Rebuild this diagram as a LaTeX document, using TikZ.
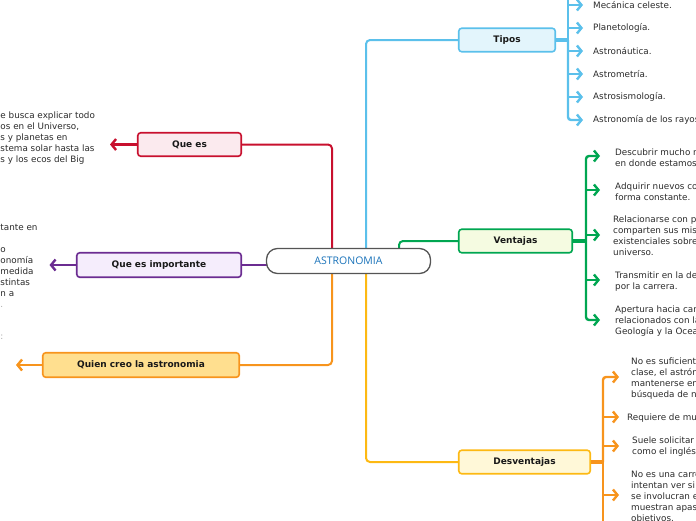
\documentclass[tikz,border=0pt]{standalone}
\usepackage{fontspec}
\setmainfont{DejaVu Sans}
\newfontfamily\centerfont{Open Sans}
\usetikzlibrary{arrows.meta,calc,backgrounds}
\definecolor{cred}{HTML}{C8102E}
\definecolor{credf}{HTML}{FBEAEE}
\definecolor{cpur}{HTML}{6B2C91}
\definecolor{cpurf}{HTML}{F5EDFC}
\definecolor{cora}{HTML}{F7941D}
\definecolor{coraf}{HTML}{FFDF8F}
\definecolor{cblu}{HTML}{5BC0EB}
\definecolor{cbluf}{HTML}{E3F5FC}
\definecolor{cgre}{HTML}{00A651}
\definecolor{cgref}{HTML}{F5FBE1}
\definecolor{cyel}{HTML}{FDB913}
\definecolor{cyelf}{HTML}{FFF8D8}
\definecolor{ctxt}{HTML}{2B2B2B}
\definecolor{ccen}{HTML}{1A73BA}
\definecolor{cbor}{HTML}{555555}
\tikzset{
  mbox/.style={draw, line width=1.6pt, rounded corners=3pt, inner sep=0pt,
    font=\bfseries\fontsize{9}{10}\selectfont, text=black!90},
  conn/.style={line width=2pt, rounded corners=4pt},
  stub/.style={line width=4pt},
  arr/.style={line width=2.4pt, rounded corners=3pt, -{Straight Barb[length=4.5pt,width=11pt]}},
  leaf/.style={anchor=west, align=left, inner sep=0pt, font=\fontsize{8.8}{11}\selectfont, text=ctxt},
  sliver/.style={anchor=west, inner sep=0pt, font=\fontsize{8.8}{11}\selectfont, text=black!35}
}
\begin{document}
\begin{tikzpicture}[x=1pt,y=-1pt]
\useasboundingbox (0,0) rectangle (696,520);
\clip (0,0) rectangle (696,520);

% central node
\node[draw=cbor, line width=1.3pt, rounded corners=11pt, minimum width=164pt, minimum height=25pt,
  fill=white, text=ccen, inner sep=0pt, font=\centerfont\fontsize{10.5}{12}\selectfont] (center) at (348.5,261) {ASTRONOMIA};

% main topic boxes
\node[mbox, draw=cred, fill=credf, minimum width=103.5pt, minimum height=23.5pt] (quees) at (189.5,144.5) {Que es};
\node[mbox, draw=cpur, fill=cpurf, minimum width=164.5pt, minimum height=24.5pt] (imp) at (159,265) {Que es importante};
\node[mbox, draw=cora, fill=coraf, minimum width=196.5pt, minimum height=24.5pt] (quien) at (141,365) {Quien creo la astronomia};
\node[mbox, draw=cblu, fill=cbluf, minimum width=96.5pt, minimum height=23.5pt] (tipos) at (507,40) {Tipos};
\node[mbox, draw=cgre, fill=cgref, minimum width=113.5pt, minimum height=23.5pt] (vent) at (515.5,241) {Ventajas};
\node[mbox, draw=cyel, fill=cyelf, minimum width=131.5pt, minimum height=23.5pt] (desv) at (524.5,462) {Desventajas};

% anchor points on the central node
\coordinate (r1) at (332,252);
\coordinate (o1) at (332,270);
\coordinate (b1) at (366,252);
\coordinate (g1) at (399,252);
\coordinate (y1) at (366,270);
% free ends of the left arrows
\coordinate (qa) at (110,144.5);
\coordinate (ia) at (49.5,265);
\coordinate (qca) at (16,365);
% spine junctions
\coordinate (tsp) at (568,40);
\coordinate (vsp) at (586,241);
\coordinate (dsp) at (603,462);

% left texts (clipped at the left edge)
\node[leaf] (queestxt) at (0.3,138.5) {e busca explicar todo\\os en el Universo,\\s y planetas en\\stema solar hasta las\\s y los ecos del Big};
\node[leaf] (imptxt) at (0.3,265.5) {tante en\\\mbox{}\\o\\onomía\\medida\\stintas\\n a\\\textcolor{black!35}{.}};
\node[sliver] (quientxt) at (0.3,337) {:};

% Tipos leaves
\node[leaf] (t1) at (593,5) {Mecánica celeste.};
\node[leaf] (t2) at (593,28) {Planetología.};
\node[leaf] (t3) at (593,51) {Astronáutica.};
\node[leaf] (t4) at (593,74) {Astrometría.};
\node[leaf] (t5) at (593,97) {Astrosismología.};
\node[leaf] (t6) at (593,120) {Astronomía de los rayos X.};

% Ventajas leaves
\node[leaf] (v1) at (615,157.5) {Descubrir mucho más sobre el universo\\en donde estamos.};
\node[leaf] (v2) at (615,191.5) {Adquirir nuevos conocimientos de\\forma constante.};
\node[leaf] (v3) at (613,236) {Relacionarse con personas que\\comparten sus mismas inquietudes\\existenciales sobre el\\universo.};
\node[leaf] (v4) at (615,281) {Transmitir en la demás personas el amor\\por la carrera.};
\node[leaf] (v5) at (615,321.5) {Apertura hacia campos laborales\\relacionados con la Física, la\\Geología y la Oceanografía.};

% Desventajas leaves
\node[leaf] (d1) at (631,379) {No es suficiente con asistir a\\clase, el astrónomo debe\\mantenerse en constante\\búsqueda de nuevos datos.};
\node[leaf] (d2) at (627,418.5) {Requiere de mucho estudio.};
\node[leaf] (d3) at (632,447) {Suele solicitar otros idiomas\\como el inglés.};
\node[leaf] (d4) at (631,497.5) {No es una carrera para los que\\intentan ver si les gusta, si no\\se involucran en ella, o no\\muestran apasionados por sus\\objetivos.};

\begin{pgfonlayer}{background}
% main connectors
\draw[conn, cred] (quees.east) -| (r1);
\draw[conn, cpur] (imp.east) -- (imp.east -| center.center);
\draw[conn, cora] (quien.east) -| (o1);
\draw[conn, cblu] (tipos.west) -| (b1);
\draw[conn, cgre] (vent.west) -| (g1);
\draw[conn, cyel] (desv.west) -| (y1);
\end{pgfonlayer}

% left arrows
\draw[arr, cred] (quees.west) -- (qa);
\draw[arr, cpur] (imp.west) -- (ia);
\draw[arr, cora] (quien.west) -- (qca);

% Tipos branch
\draw[stub, cblu] (tipos.east) -- (tsp);
\draw[line width=2.4pt, cblu] (tsp) -- ++(0,-60);
\draw[arr, cblu] (tsp |- t1.west) -- ($(t1.west)+(-10,0)$);
\draw[arr, cblu] (tsp |- t2.west) -- ($(t2.west)+(-10,0)$);
\draw[arr, cblu] (tsp |- t3.west) -- ($(t3.west)+(-10,0)$);
\draw[arr, cblu] (tsp |- t4.west) -- ($(t4.west)+(-10,0)$);
\draw[arr, cblu] (tsp |- t5.west) -- ($(t5.west)+(-10,0)$);
\draw[arr, cblu] (tsp) |- ($(t6.west)+(-10,0)$);

% Ventajas branch
\draw[stub, cgre] (vent.east) -- (vsp);
\draw[arr, cgre] (vsp) |- ($(v1.west)+(-15,-1.5)$);
\draw[arr, cgre] (vsp |- v2.west) ++(0,-1.5) -- ($(v2.west)+(-15,-1.5)$);
\draw[arr, cgre] (vsp |- v3.west) ++(0,-1) -- ($(v3.west)+(-13,-1)$);
\draw[arr, cgre] (vsp |- v4.west) ++(0,-1) -- ($(v4.west)+(-15,-1)$);
\draw[arr, cgre] (vsp) |- ($(v5.west)+(-15,-1.5)$);

% Desventajas branch
\draw[stub, cora] (desv.east) -- (dsp);
\draw[line width=2.4pt, cora] (dsp) -- ++(0,80);
\draw[arr, cora] (dsp) |- ($(d1.west)+(-12,-2)$);
\draw[arr, cora] (dsp |- d2.west) ++(0,-1.5) -- ($(d2.west)+(-8,-1.5)$);
\draw[arr, cora] (dsp |- d3.west) ++(0,-1) -- ($(d3.west)+(-13,-1)$);
\draw[arr, cora] (dsp |- d4.west) ++(0,-2.5) -- ($(d4.west)+(-12,-2.5)$);
\end{tikzpicture}
\end{document}
